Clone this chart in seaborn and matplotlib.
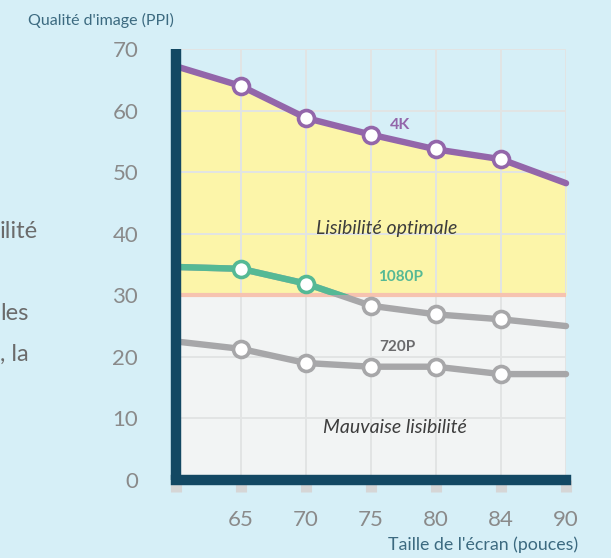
import matplotlib
matplotlib.use('Agg')
import matplotlib.pyplot as plt
import seaborn as sns
import numpy as np
from matplotlib.patches import Rectangle

# data
sizes = ['60', '65', '70', '75', '80', '84', '90']
size_labels = ['', '65', '70', '75', '80', '84', '90']
ppi_4k = [67.2, 64.0, 58.8, 56.1, 53.7, 52.1, 48.2]
ppi_1080 = [34.6, 34.3, 31.9, 28.3, 26.9, 26.1, 25.0]
ppi_720 = [22.5, 21.3, 19.0, 18.4, 18.4, 17.2, 17.2]
threshold = 30
y_ticks = [0, 10, 20, 30, 40, 50, 60, 70]

bg = '#d6eff7'
purple = '#9366aa'
green = '#55b995'
grey = '#a7a7a9'
navy = '#134863'

sns.set_style('white')
plt.rcParams['font.family'] = ['Lato', 'DejaVu Sans']

fig = plt.figure(figsize=(6.11, 5.58), dpi=100, facecolor=bg)
ax = fig.add_axes([0.2876, 0.1398, 0.6388, 0.7724])
ax.set_facecolor(bg)

x = np.arange(len(sizes))

# zones
ax.fill_between(x, threshold, ppi_4k, color='#fcf5a9', lw=0, zorder=0.1)
ax.fill_between(x, 0, threshold, color='#f2f4f4', lw=0, zorder=0.1)
ax.axhline(threshold, color='#f6c3b0', lw=3, zorder=0.6)

line_kw = dict(lw=4.6, marker='o', markersize=11.5, markerfacecolor='white',
               markeredgewidth=2.6, solid_capstyle='round', clip_on=False)

sns.lineplot(x=x, y=ppi_720, ax=ax, color=grey, markeredgecolor=grey,
             markevery=[1, 2, 3, 4, 5], zorder=3, **line_kw)
sns.lineplot(x=x, y=ppi_1080, ax=ax, color=grey, markeredgecolor=grey,
             markevery=[3, 4, 5], zorder=3, **line_kw)
sns.lineplot(x=x, y=ppi_1080, ax=ax, color=green, markeredgecolor=green,
             markevery=[1, 2], zorder=3.1, **line_kw)
# green only above the threshold
clip = Rectangle((-1, threshold), 10, 100, transform=ax.transData)
ax.lines[-1].set_clip_path(clip)
ax.lines[-1].set_clip_on(True)
sns.lineplot(x=x, y=ppi_4k, ax=ax, color=purple, markeredgecolor=purple,
             markevery=[1, 2, 3, 4, 5], zorder=3, **line_kw)

# labels in the chart
ax.text(3.45, 57.6, '4K', color=purple, fontsize=11.5, fontweight='bold',
        ha='center', va='center')
ax.text(3.45, 33.0, '1080P', color=green, fontsize=11, fontweight='bold',
        ha='center', va='center')
ax.text(3.4, 21.6, '720P', color='#6a6a6c', fontsize=11, fontweight='bold',
        ha='center', va='center')
ax.text(3.24, 40.9, 'Lisibilité optimale', color='#3d3d3d', fontsize=14,
        style='italic', ha='center', va='center')
ax.text(3.37, 8.5, 'Mauvaise lisibilité', color='#3d3d3d', fontsize=14,
        style='italic', ha='center', va='center')

ax.set_xlim(0, 6)
ax.set_ylim(0, 70)
ax.set_xticks(x)
ax.set_xticklabels(size_labels)
ax.set_yticks(y_ticks)
ax.grid(True, color='#e2e4e4', lw=1.4)
ax.set_axisbelow(True)

for side in ['top', 'right']:
    ax.spines[side].set_visible(False)
ax.spines['left'].set_color(navy)
ax.spines['left'].set_linewidth(7.5)
ax.spines['left'].set_capstyle('butt')
ax.spines['bottom'].set_color(navy)
ax.spines['bottom'].set_linewidth(7.5)
ax.spines['left'].set_zorder(4)
ax.spines['bottom'].set_zorder(4)

ax.tick_params(axis='x', bottom=True, length=8.6, width=8, color='#d6d6d6',
               direction='out', pad=13, labelsize=16, labelcolor='#8a8a8a')
ax.tick_params(axis='y', left=False, length=0, pad=27, labelsize=16,
               labelcolor='#8a8a8a')

fig.text(28 / 611, 1 - 20 / 558, "Qualité d'image (PPI)", color='#3c6a80',
         fontsize=11.5, ha='left', va='center')
fig.text(578 / 611, 1 - 545 / 558, "Taille de l'écran (pouces)", color='#3c6a80',
         fontsize=12.8, ha='right', va='center')

# cut-off text of the neighbouring column
for t, yy in [('ilité', 231), ('les', 313), (', la', 354)]:
    fig.text(0.0, 1 - yy / 558, t, color='#6b6b6b', fontsize=17,
             ha='left', va='center')

fig.savefig('out.png', dpi=100, facecolor=bg)
